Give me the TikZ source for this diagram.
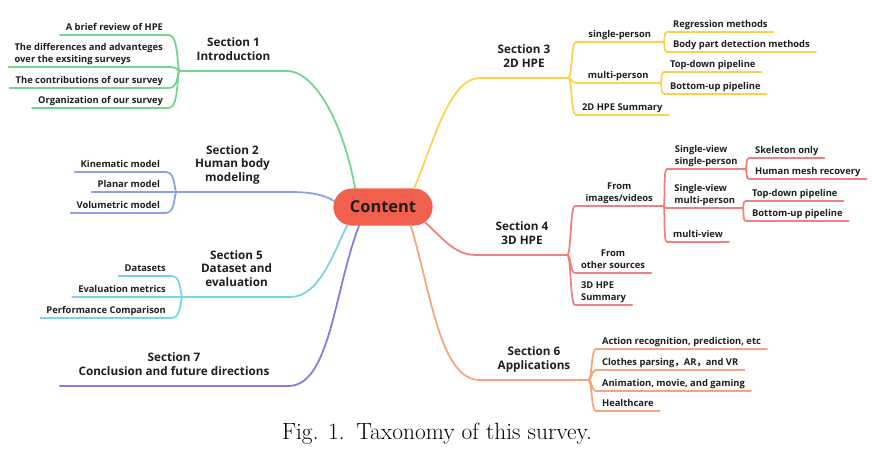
\documentclass[tikz,border=0pt]{standalone}
\usepackage{fontspec}
\setsansfont{Open Sans}
\newfontfamily\cjkfont{Noto Sans CJK SC}
\usepackage{tikz}
\usetikzlibrary{shapes.misc, positioning, calc}
\definecolor{txtgray}{RGB}{30, 30, 30}
\definecolor{contentred}{RGB}{240, 96, 77}
\definecolor{secgreen}{RGB}{112, 214, 140}
\definecolor{secblue}{RGB}{140, 160, 232}
\definecolor{seccyan}{RGB}{120, 214, 226}
\definecolor{secpurple}{RGB}{140, 120, 220}
\definecolor{secyellow}{RGB}{246, 212, 80}
\definecolor{secsalmon}{RGB}{238, 128, 128}
\definecolor{secorange}{RGB}{244, 166, 120}

\begin{document}
\begin{tikzpicture}[x=0.03cm, y=-0.03cm,
  branch/.style={line width=1.5pt, line cap=round, line join=round},
  secnode/.style={anchor=south, align=center, inner xsep=0pt, inner ysep=6pt, text depth=2.5pt, text=txtgray, font=\sffamily\bfseries\fontsize{10}{11.8}\selectfont},
  leafl/.style={anchor=south east, align=left, inner xsep=5pt, inner ysep=2pt, text depth=2pt, text=txtgray, font=\sffamily\bfseries\fontsize{8}{9.6}\selectfont},
  leafr/.style={leafl, anchor=south west}]
\useasboundingbox (0,0) rectangle (872,455);

\node[rounded rectangle, fill=contentred, minimum width=3.21cm, minimum height=1.11cm, text=txtgray, font=\sffamily\bfseries\fontsize{14}{16}\selectfont] (content) at (383,207) {Content};

\node[secnode, minimum width=3.21cm] (sec1) at (233.5,71) {Section 1\\Introduction};
\node[secnode, minimum width=3.33cm] (sec2) at (232.5,192) {Section 2\\Human body\\modeling};
\node[secnode, minimum width=3.21cm] (sec5) at (236.5,297) {Section 5\\Dataset and\\evaluation};
\node[secnode, minimum width=6.84cm] (sec7) at (174,386) {Section 7\\Conclusion and future directions};
\node[secnode, minimum width=2.64cm] (sec3) at (524,78) {Section 3\\2D HPE};
\node[secnode, minimum width=2.7cm] (sec4) at (522,255) {Section 4\\3D HPE};
\node[secnode, minimum width=3.24cm] (sec6) at (534,380) {Section 6\\Applications};

\draw[branch, secgreen] (content.146) .. controls +(-15,-78) and +(23,0) .. (sec1.south east) -- (sec1.south west);
\draw[branch, secblue] (content.173) .. controls +(-13,-8) and +(17,0) .. (sec2.south east) -- (sec2.south west);
\draw[branch, seccyan] (content.207) .. controls +(-13,25) and +(30,0) .. (sec5.south east) -- (sec5.south west);
\draw[branch, secpurple] (content.218) .. controls +(-25,65) and +(42,0) .. (sec7.south east) -- (sec7.south west);
\draw[branch, secyellow] (content.31) .. controls +(20,-48) and +(-30,0) .. (sec3.south west) -- (sec3.south east);
\draw[branch, secsalmon] (content.340) .. controls +(20,18) and +(-22,0) .. (sec4.south west) -- (sec4.south east);
\draw[branch, secorange] (content.326) .. controls +(20,65) and +(-40,0) .. (sec6.south west) -- (sec6.south east);

\node[leafl] (intro1) at (169,35) {A brief review of HPE};
\node[leafl] (intro2) at (169,67) {The differences and advanteges\\over the exsiting surveys};
\node[leafl] (intro3) at (169,88) {The contributions of our survey};
\node[leafl] (intro4) at (169,108) {Organization of our survey};
\foreach \i in {1,...,4}
  \draw[branch, secgreen] (sec1.south west) .. controls +(-3,0) and +(10,0) .. (intro\i.south east) -- (intro\i.south west);

\node[leafl] (body1) at (166,172) {Kinematic model};
\node[leafl] (body2) at (166,192) {Planar model};
\node[leafl] (body3) at (166,213) {Volumetric model};
\foreach \i in {1,...,3}
  \draw[branch, secblue] (sec2.south west) .. controls +(-3,0) and +(10,0) .. (body\i.south east) -- (body\i.south west);

\node[leafl] (data1) at (172,276) {Datasets};
\node[leafl] (data2) at (172,297) {Evaluation metrics};
\node[leafl] (data3) at (172,318) {Performance Comparison};
\foreach \i in {1,...,3}
  \draw[branch, seccyan] (sec5.south west) .. controls +(-3,0) and +(10,0) .. (data\i.south east) -- (data\i.south west);

\node[leafr, minimum width=2.61cm, align=center] (hpe2a) at (576,42) {single-person};
\node[leafr, minimum width=2.52cm, align=center] (hpe2b) at (576,83) {multi-person};
\node[leafr] (hpe2c) at (576,115) {2D HPE Summary};
\node[leafr] (hpe2a1) at (667,32) {Regression methods};
\node[leafr] (hpe2a2) at (667,52) {Body part detection methods};
\node[leafr] (hpe2b1) at (664,72) {Top-down pipeline};
\node[leafr] (hpe2b2) at (664,94) {Bottom-up pipeline};
\foreach \c in {hpe2a,hpe2b,hpe2c}
  \draw[branch, secyellow] (sec3.south east) .. controls +(4,0) and +(-5,0) .. (\c.south west) -- (\c.south east);
\foreach \c in {hpe2a1,hpe2a2}
  \draw[branch, secyellow] (hpe2a.south east) .. controls +(2,0) and +(-4,0) .. (\c.south west) -- (\c.south east);
\foreach \c in {hpe2b1,hpe2b2}
  \draw[branch, secyellow] (hpe2b.south east) .. controls +(2,0) and +(-4,0) .. (\c.south west) -- (\c.south east);

\node[leafr, minimum width=2.64cm, align=center] (hpe3a) at (575,206) {From\\images/videos};
\node[leafr, align=center] (hpe3b) at (575,273) {From\\other sources};
\node[leafr] (hpe3c) at (575,305) {3D HPE\\Summary};
\node[leafr, minimum width=2.34cm] (hpe3a1) at (667,169) {Single-view\\single-person};
\node[leafr, minimum width=2.25cm] (hpe3a2) at (667,208) {Single-view\\multi-person};
\node[leafr] (hpe3a3) at (667,242) {multi-view};
\node[leafr] (hpe3a11) at (749,158) {Skeleton only};
\node[leafr] (hpe3a12) at (749,179) {Human mesh recovery};
\node[leafr] (hpe3a21) at (746,201) {Top-down pipeline};
\node[leafr] (hpe3a22) at (746,221) {Bottom-up pipeline};
\foreach \c in {hpe3a,hpe3b,hpe3c}
  \draw[branch, secsalmon] (sec4.south east) .. controls +(4,0) and +(-5,0) .. (\c.south west) -- (\c.south east);
\foreach \c in {hpe3a1,hpe3a2,hpe3a3}
  \draw[branch, secsalmon] (hpe3a.south east) .. controls +(2,0) and +(-4,0) .. (\c.south west) -- (\c.south east);
\foreach \c in {hpe3a11,hpe3a12}
  \draw[branch, secsalmon] (hpe3a1.south east) .. controls +(2,0) and +(-4,0) .. (\c.south west) -- (\c.south east);
\foreach \c in {hpe3a21,hpe3a22}
  \draw[branch, secsalmon] (hpe3a2.south east) .. controls +(2,0) and +(-4,0) .. (\c.south west) -- (\c.south east);

\node[leafr] (app1) at (596,349) {Action recognition, prediction, etc};
\node[leafr] (app2) at (596,370) {Clothes parsing{\cjkfont ，}AR{\cjkfont ，}and VR};
\node[leafr] (app3) at (596,391) {Animation, movie, and gaming};
\node[leafr] (app4) at (596,411) {Healthcare};
\foreach \i in {1,...,4}
  \draw[branch, secorange] (sec6.south east) .. controls +(4,0) and +(-5,0) .. (app\i.south west) -- (app\i.south east);

\node[text=black, font=\fontsize{20}{24}\selectfont] (caption) at (437,434) {Fig. 1.\enspace Taxonomy of this survey.};
\end{tikzpicture}
\end{document}
